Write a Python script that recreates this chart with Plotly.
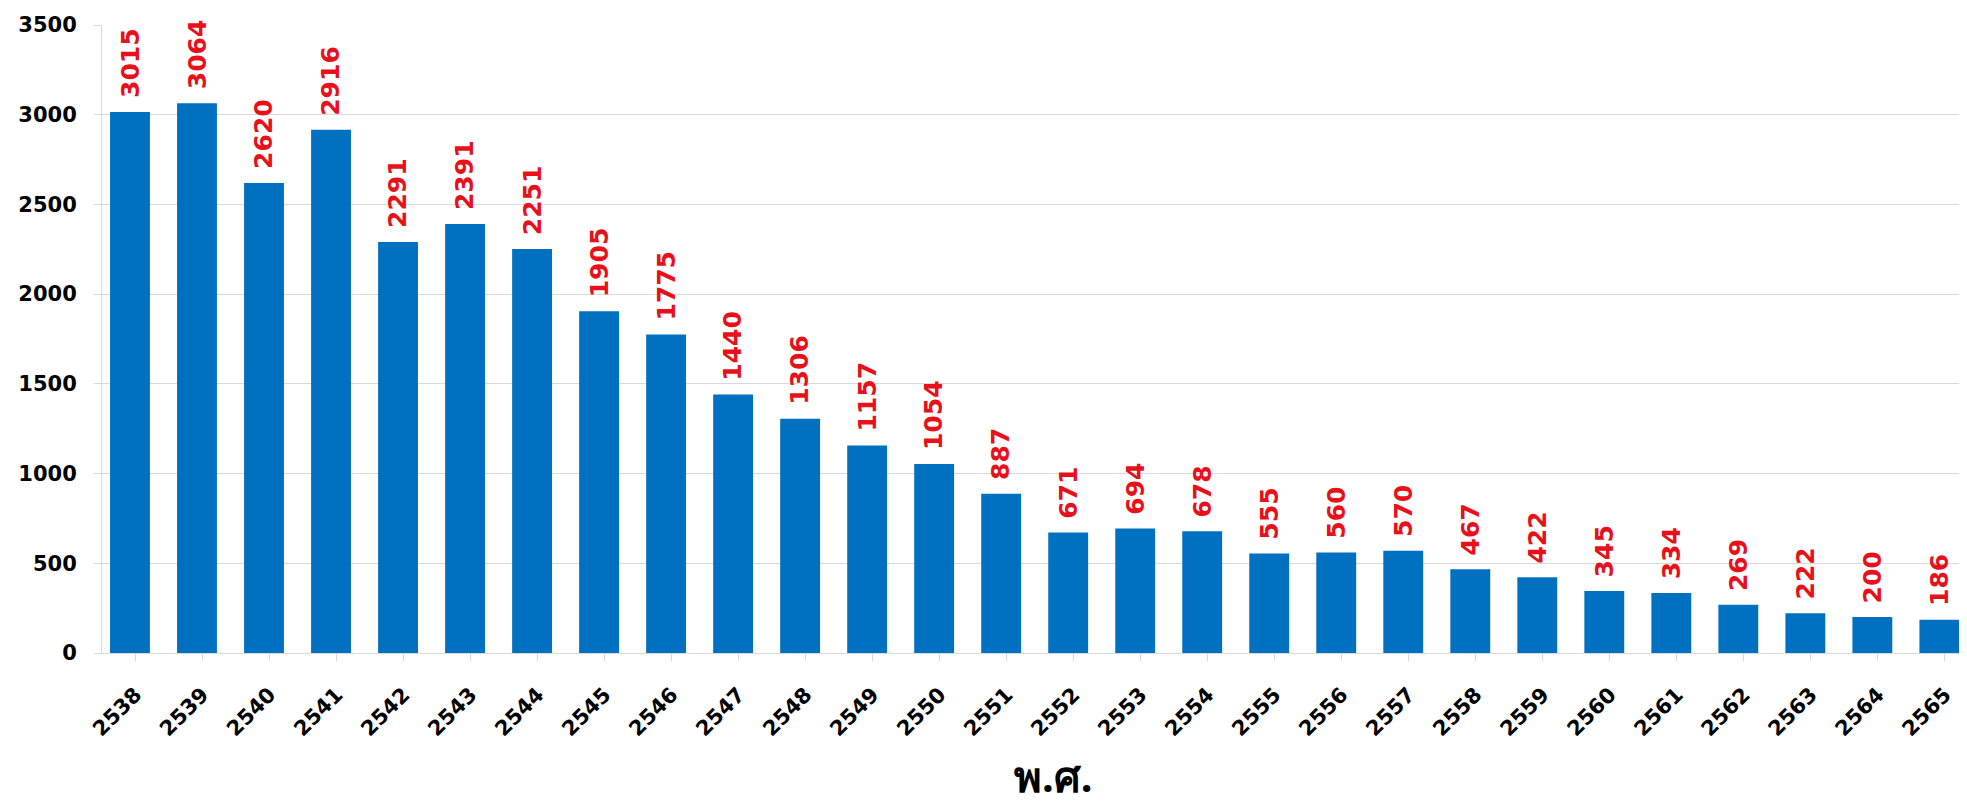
import plotly.graph_objects as go

years = [str(y) for y in range(2538, 2566)]
values = [3015, 3064, 2620, 2916, 2291, 2391, 2251, 1905, 1775, 1440, 1306, 1157, 1054,
          887, 671, 694, 678, 555, 560, 570, 467, 422, 345, 334, 269, 222, 200, 186]
y_ticks = [0, 500, 1000, 1500, 2000, 2500, 3000, 3500]
x_title = "พ.ศ."

BAR = "#0070C0"
RED = "#e8101a"
GRID = "#d9d9d9"
FONT = "DejaVu Sans"

xs = list(range(len(years)))
BAR_W = 0.595
BAR_OFF = -0.38

fig = go.Figure()
fig.add_trace(go.Bar(
    x=xs,
    y=values,
    marker=dict(color=BAR, line=dict(width=0)),
    width=BAR_W,
    offset=BAR_OFF,
    hoverinfo="skip",
))

annotations = [
    dict(x=x + BAR_OFF + BAR_W / 2, y=v, xref="x", yref="y", text=str(v), textangle=-90,
         showarrow=False, xanchor="center", yanchor="bottom", yshift=12,
         font=dict(family=FONT, size=25, color=RED, weight="bold"))
    for x, v in zip(xs, values)
]
annotations.append(dict(
    text=x_title, xref="paper", yref="paper", x=0.51, y=0,
    yshift=-153, xanchor="center", yanchor="bottom", showarrow=False,
    font=dict(family="Noto Sans, DejaVu Sans, sans-serif", size=42, color="black", weight="bold"),
))

fig.update_layout(
    width=1959, height=798,
    margin=dict(l=94, r=0, t=17, b=153, autoexpand=False),
    paper_bgcolor="white", plot_bgcolor="white",
    showlegend=False,
    font=dict(family=FONT, color="black"),
    xaxis=dict(
        tickmode="array",
        tickvals=xs,
        ticktext=years,
        range=[-0.5, 27.33],
        tickangle=-45,
        tickfont=dict(family=FONT, size=21, color="black", weight="bold"),
        showgrid=False,
        showline=True, linecolor=GRID, linewidth=1,
        ticks="outside", ticklen=7, tickcolor=GRID,
        tickson="boundaries",
        ticklabelstandoff=13,
        zeroline=False,
        automargin=False,
    ),
    yaxis=dict(
        range=[0, 3500],
        tickmode="array",
        tickvals=y_ticks,
        tickfont=dict(family=FONT, size=21, color="black", weight="bold"),
        showgrid=True, gridcolor=GRID, gridwidth=1,
        showline=True, linecolor=GRID, linewidth=1,
        ticks="outside", ticklen=7, tickcolor=GRID,
        ticklabelstandoff=13,
        zeroline=False,
        automargin=False,
    ),
    annotations=annotations,
)

fig.write_html("out.html")
